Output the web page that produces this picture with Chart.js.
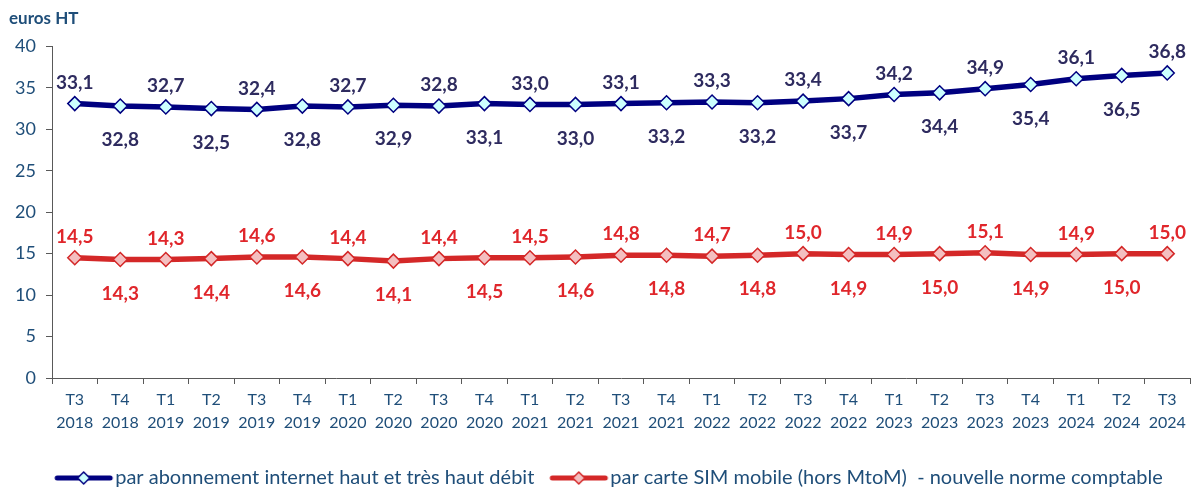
<!DOCTYPE html>
<html><head><meta charset="utf-8">
<script src="https://cdn.jsdelivr.net/npm/chart.js@4.4.1/dist/chart.umd.min.js"></script>
<style>html,body{margin:0;padding:0;background:#fff}#wrap{width:1193px;height:488px;position:relative;overflow:hidden}</style>
</head><body><div id="wrap"><canvas id="c"></canvas></div>
<script>
const quarters = ['T3','T4','T1','T2','T3','T4','T1','T2','T3','T4','T1','T2','T3','T4','T1','T2','T3','T4','T1','T2','T3','T4','T1','T2','T3'];
const years = ['2018','2018','2019','2019','2019','2019','2020','2020','2020','2020','2021','2021','2021','2021','2022','2022','2022','2022','2023','2023','2023','2023','2024','2024','2024'];
const internetValues = [33.1,32.8,32.7,32.5,32.4,32.8,32.7,32.9,32.8,33.1,33.0,33.0,33.1,33.2,33.3,33.2,33.4,33.7,34.2,34.4,34.9,35.4,36.1,36.5,36.8];
const simValues = [14.5,14.3,14.3,14.4,14.6,14.6,14.4,14.1,14.4,14.5,14.5,14.6,14.8,14.8,14.7,14.8,15.0,14.9,14.9,15.0,15.1,14.9,14.9,15.0,15.0];
const seriesNames = ['par abonnement internet haut et très haut débit','par carte SIM mobile (hors MtoM)  - nouvelle norme comptable'];
const yMin = 0, yMax = 40, yStep = 5;
const unitTitle = 'euros HT';

const FONT = 'Lato';
const AXIS_TEXT = '#1F4E79';
const AXIS_LINE = '#595959';
const lineColors = ['#000080', '#D42828'];
const markerFills = ['#CCFFFF', '#F4BFC0'];
const labelColors = ['#2E2B5F', '#E0262B'];

function legendIcon(lineColor, fill) {
  const c = document.createElement('canvas');
  c.width = 67; c.height = 16;
  const g = c.getContext('2d');
  g.strokeStyle = lineColor; g.lineWidth = 5; g.lineCap = 'round';
  g.beginPath(); g.moveTo(7, 8); g.lineTo(60, 8); g.stroke();
  g.beginPath(); g.moveTo(33.5, 2); g.lineTo(39.5, 8); g.lineTo(33.5, 14); g.lineTo(27.5, 8); g.closePath();
  g.fillStyle = fill; g.fill(); g.lineWidth = 1.5; g.strokeStyle = lineColor; g.stroke();
  return c;
}
const legendIcons = [legendIcon(lineColors[0], markerFills[0]), legendIcon(lineColors[1], markerFills[1])];

const valueLabels = {
  id: 'valueLabels',
  afterDatasetsDraw(chart) {
    const ctx = chart.ctx;
    chart.data.datasets.forEach((ds, di) => {
      const meta = chart.getDatasetMeta(di);
      ctx.save();
      ctx.font = 'bold 19px ' + FONT;
      ctx.fillStyle = labelColors[di];
      ctx.textAlign = 'center';
      ctx.textBaseline = 'middle';
      meta.data.forEach((pt, i) => {
        const txt = ds.data[i].toFixed(1).replace('.', ',');
        const dy = i % 2 === 0 ? -21 : 34;
        ctx.fillText(txt, pt.x, pt.y + dy);
      });
      ctx.restore();
    });
  }
};

const legendShift = {
  id: 'legendShift',
  afterLayout(chart) {
    if (chart.legend) { chart.legend.left += 13; chart.legend.right += 13; }
  }
};

const labels = quarters.map((q, i) => [q, years[i]]);
const mkDs = (label, data, i) => ({
  label, data,
  borderColor: lineColors[i], backgroundColor: markerFills[i],
  borderWidth: 5.5, tension: 0,
  pointStyle: 'rectRot', pointRadius: 7, pointBorderWidth: 1.5,
  pointBackgroundColor: markerFills[i], pointBorderColor: lineColors[i]
});

new Chart(document.getElementById('c'), {
  type: 'line',
  data: { labels, datasets: [mkDs(seriesNames[0], internetValues, 0), mkDs(seriesNames[1], simValues, 1)] },
  plugins: [valueLabels, legendShift],
  options: {
    responsive: true, maintainAspectRatio: false, animation: false, devicePixelRatio: 1,
    layout: { autoPadding: false, padding: { left: 9, right: 3, top: 0, bottom: -10 } },
    plugins: {
      tooltip: { enabled: false },
      title: { display: true, text: unitTitle, align: 'start', color: AXIS_TEXT,
        font: { family: FONT, size: 17, weight: 'bold' }, padding: { top: 8, bottom: 18 } },
      legend: {
        position: 'bottom',
        labels: {
          usePointStyle: true, pointStyleWidth: 43, boxHeight: 16, padding: 23,
          color: AXIS_TEXT, font: { family: FONT, size: 20 },
          generateLabels(chart) {
            const items = Chart.defaults.plugins.legend.labels.generateLabels(chart);
            items.forEach((it, i) => { it.pointStyle = legendIcons[i]; });
            return items;
          }
        }
      }
    },
    scales: {
      x: {
        offset: true,
        grid: { offset: true, drawOnChartArea: false, drawTicks: true, tickLength: 6, color: AXIS_LINE },
        border: { color: AXIS_LINE, width: 1 },
        ticks: { color: AXIS_TEXT, font: { family: FONT, size: 16, lineHeight: 1.4 }, padding: 5, maxRotation: 0, autoSkip: false },
        afterFit(s) { s.height = 67; s.paddingRight = 0; s.paddingLeft = 0; }
      },
      y: {
        min: yMin, max: yMax,
        grid: { drawOnChartArea: false, drawTicks: true, tickLength: 6, color: AXIS_LINE },
        border: { color: AXIS_LINE, width: 1 },
        ticks: { stepSize: yStep, color: AXIS_TEXT, font: { family: FONT, size: 18 }, padding: 10 },
        afterFit(s) { s.width = 43; }
      }
    }
  }
});
</script>
</body></html>
